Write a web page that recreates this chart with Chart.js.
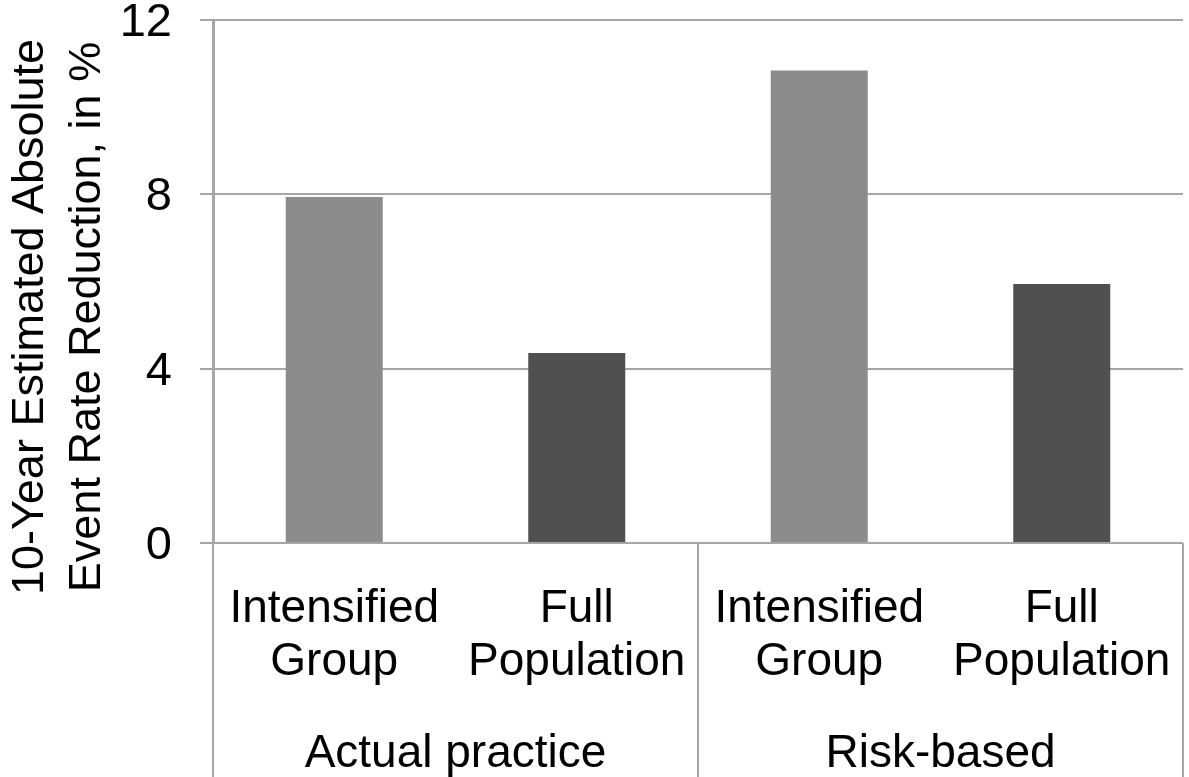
<!DOCTYPE html>
<html><head><meta charset="utf-8">
<script src="https://cdn.jsdelivr.net/npm/chart.js@4/dist/chart.umd.min.js"></script>
<style>html,body{margin:0;padding:0;background:#fff;} #wrap{width:1189px;height:777px;}</style>
</head><body><div id="wrap"><canvas id="c" width="1189" height="777"></canvas></div>
<script>
const categories = [["Intensified","Group"],["Full","Population"],["Intensified","Group"],["Full","Population"]];
const groups = ["Actual practice","Risk-based"];
const values = [7.94, 4.36, 10.84, 5.94];
const barColors = ["#8c8c8c","#505050","#8c8c8c","#505050"];
const yTitle = ["10-Year Estimated Absolute","Event Rate Reduction, in %"];
const yMin = 0, yMax = 12, yStep = 4;

const FONT = '"Liberation Sans", Arial, sans-serif';
const GRID = '#a6a6a6';

const sepLines = {
  id: 'sepLines',
  afterDraw(chart) {
    const xs = chart.scales.x;
    const ctx = chart.ctx;
    const mid = (xs.getPixelForValue(1) + xs.getPixelForValue(2)) / 2;
    ctx.save();
    ctx.strokeStyle = GRID;
    ctx.lineWidth = 2;
    [xs.left, mid, xs.right].forEach(x => {
      ctx.beginPath();
      ctx.moveTo(x, xs.top);
      ctx.lineTo(x, chart.height);
      ctx.stroke();
    });
    ctx.restore();
  }
};

const yTitlePlugin = {
  id: 'yTitlePlugin',
  afterDraw(chart) {
    const ctx = chart.ctx;
    ctx.save();
    ctx.fillStyle = '#000';
    ctx.font = '45px ' + FONT;
    ctx.textAlign = 'center';
    ctx.textBaseline = 'alphabetic';
    const cy = 317;
    const baselines = [43, 100];
    yTitle.forEach((t, i) => {
      ctx.save();
      ctx.translate(baselines[i], cy);
      ctx.rotate(-Math.PI / 2);
      ctx.fillText(t, 0, 0);
      ctx.restore();
    });
    ctx.restore();
  }
};

new Chart(document.getElementById('c'), {
  type: 'bar',
  data: {
    labels: categories,
    datasets: [{
      data: values,
      backgroundColor: barColors,
      borderWidth: 0,
      categoryPercentage: 1,
      barPercentage: 0.4
    }]
  },
  options: {
    responsive: false,
    animation: false,
    devicePixelRatio: 1,
    layout: { padding: { top: 20, right: 6, left: 0, bottom: 0 } },
    plugins: { legend: { display: false }, tooltip: { enabled: false } },
    scales: {
      y: {
        min: yMin, max: yMax,
        ticks: { stepSize: yStep, color: '#000', font: { family: FONT, size: 47 }, padding: 28, labelOffset: 3 },
        grid: { color: GRID, lineWidth: 2, tickLength: 13, drawTicks: true },
        border: { display: true, color: GRID, width: 3 },
        afterFit(s) { s.width = 213; s.paddingTop = 0; s.paddingBottom = 0; }
      },
      x: {
        type: 'category',
        offset: true,
        weight: 0,
        grid: { display: false },
        border: { display: false },
        ticks: { color: '#000', font: { family: FONT, size: 46, lineHeight: 1.15 }, padding: 32, maxRotation: 0, minRotation: 0, autoSkip: false },
        afterFit(s) { s.height = 150; s.paddingLeft = 0; s.paddingRight = 0; }
      },
      x2: {
        type: 'category',
        position: 'bottom',
        labels: groups,
        offset: true,
        weight: 1,
        grid: { display: false },
        border: { display: false },
        ticks: { color: '#000', font: { family: FONT, size: 46, lineHeight: 1.15 }, padding: 27, maxRotation: 0, minRotation: 0, autoSkip: false },
        afterFit(s) { s.height = 84; s.paddingLeft = 0; s.paddingRight = 0; }
      }
    }
  },
  plugins: [sepLines, yTitlePlugin]
});
</script>
</body></html>
